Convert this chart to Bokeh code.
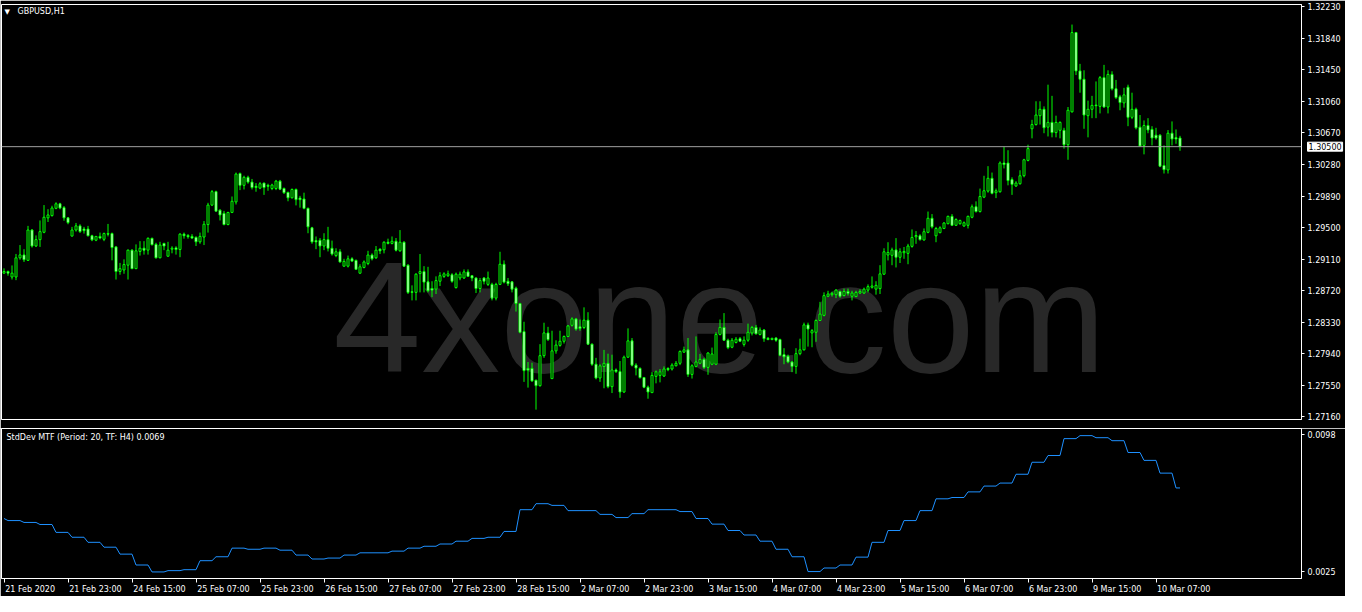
from bokeh.plotting import figure
from bokeh.layouts import column
from bokeh.models import (Range1d, FixedTicker, PrintfTickFormatter, Label, Span,
                          ColumnDataSource, LinearAxis)
from bokeh.embed import file_html
from bokeh.resources import INLINE

# ---------------- data ----------------
symbol = "GBPUSD,H1"
indicator_name = "StdDev MTF (Period: 20, TF: H4)"
indicator_last = "0.0069"
last_price = 1.30500

opens = [
 1.28937, 1.28957, 1.28889, 1.28889, 1.29126, 1.29162, 1.29095, 1.29470, 1.29272, 1.29351,
 1.29442, 1.29620, 1.29648, 1.29738, 1.29794, 1.29746, 1.29620, 1.29395, 1.29470, 1.29521,
 1.29482, 1.29482, 1.29399, 1.29344, 1.29391, 1.29355, 1.29426, 1.29426, 1.29261, 1.28957,
 1.28976, 1.29035, 1.29221, 1.28992, 1.29205, 1.29245, 1.29221, 1.29367, 1.29292, 1.29126,
 1.29304, 1.29146, 1.29233, 1.29249, 1.29229, 1.29419, 1.29403, 1.29391, 1.29379, 1.29324,
 1.29383, 1.29537, 1.29778, 1.29944, 1.29715, 1.29675, 1.29537, 1.29687, 1.29817, 1.30168,
 1.30022, 1.30121, 1.30062, 1.30010, 1.29987, 1.30050, 1.30022, 1.29983, 1.29983, 1.30074,
 1.29983, 1.29935, 1.29868, 1.29971, 1.29864, 1.29853, 1.29738, 1.29497, 1.29339, 1.29343,
 1.29272, 1.29351, 1.29244, 1.29154, 1.29201, 1.29023, 1.29023, 1.29114, 1.29094, 1.28936,
 1.29007, 1.29055, 1.29161, 1.29126, 1.29233, 1.29225, 1.29319, 1.29304, 1.29331, 1.29213,
 1.29319, 1.29035, 1.28707, 1.28699, 1.28932, 1.28956, 1.28829, 1.28747, 1.28739, 1.28837,
 1.28897, 1.28905, 1.28916, 1.28758, 1.28877, 1.28877, 1.28952, 1.28905, 1.28877, 1.28747,
 1.28877, 1.28798, 1.28798, 1.28628, 1.28798, 1.29047, 1.28837, 1.28829, 1.28751, 1.28561,
 1.28214, 1.27759, 1.27759, 1.27613, 1.27546, 1.27917, 1.28198, 1.27633, 1.27976, 1.28044,
 1.28095, 1.28154, 1.28292, 1.28371, 1.28273, 1.28265, 1.28356, 1.28059, 1.27811, 1.27641,
 1.27783, 1.27822, 1.27534, 1.27740, 1.27720, 1.27468, 1.27898, 1.28100, 1.27800, 1.27760,
 1.27646, 1.27527, 1.27460, 1.27661, 1.27673, 1.27665, 1.27760, 1.27752, 1.27792, 1.27823,
 1.27961, 1.27989, 1.27685, 1.27784, 1.27823, 1.27871, 1.27772, 1.27811, 1.27811, 1.28179,
 1.28266, 1.28108, 1.28021, 1.28080, 1.28127, 1.28056, 1.28108, 1.28198, 1.28266, 1.28179,
 1.28234, 1.28131, 1.28116, 1.28135, 1.28116, 1.27930, 1.27910, 1.27839, 1.27784, 1.27942,
 1.27989, 1.28297, 1.28198, 1.28206, 1.28352, 1.28415, 1.28651, 1.28671, 1.28671, 1.28711,
 1.28659, 1.28711, 1.28651, 1.28647, 1.28691, 1.28691, 1.28727, 1.28762, 1.28739, 1.28746,
 1.28924, 1.29161, 1.29157, 1.29224, 1.29133, 1.29189, 1.29181, 1.29268, 1.29386, 1.29398,
 1.29347, 1.29441, 1.29615, 1.29398, 1.29437, 1.29489, 1.29548, 1.29639, 1.29528, 1.29548,
 1.29520, 1.29528, 1.29627, 1.29757, 1.29698, 1.29876, 1.29951, 1.30109, 1.29931, 1.29943,
 1.30298, 1.30298, 1.30093, 1.30014, 1.30042, 1.30141, 1.30330, 1.30721, 1.30773, 1.30883,
 1.30962, 1.30741, 1.30800, 1.30674, 1.30702, 1.30702, 1.30524, 1.30930, 1.31910, 1.31436,
 1.31333, 1.30883, 1.30962, 1.31014, 1.30998, 1.31353, 1.30990, 1.31393, 1.31215, 1.31116,
 1.31041, 1.31235, 1.30863, 1.30962, 1.30741, 1.30516, 1.30761, 1.30713, 1.30642, 1.30642,
 1.30267, 1.30212, 1.30666, 1.30611, 1.30607,
]

highs = [
 1.28996, 1.28968, 1.29032, 1.29174, 1.29284, 1.29233, 1.29521, 1.29482, 1.29403, 1.29588,
 1.29778, 1.29727, 1.29770, 1.29813, 1.29806, 1.29766, 1.29628, 1.29509, 1.29557, 1.29541,
 1.29509, 1.29521, 1.29411, 1.29391, 1.29438, 1.29438, 1.29545, 1.29438, 1.29272, 1.29063,
 1.29107, 1.29229, 1.29233, 1.29292, 1.29332, 1.29332, 1.29379, 1.29375, 1.29312, 1.29324,
 1.29312, 1.29324, 1.29269, 1.29269, 1.29430, 1.29438, 1.29419, 1.29419, 1.29391, 1.29438,
 1.29581, 1.29806, 1.29964, 1.29956, 1.29727, 1.29706, 1.29695, 1.29884, 1.30180, 1.30180,
 1.30141, 1.30141, 1.30101, 1.30050, 1.30062, 1.30054, 1.30042, 1.30042, 1.30089, 1.30089,
 1.29995, 1.29943, 1.29983, 1.29983, 1.29892, 1.29931, 1.29746, 1.29509, 1.29390, 1.29371,
 1.29430, 1.29509, 1.29339, 1.29244, 1.29233, 1.29114, 1.29154, 1.29134, 1.29106, 1.29047,
 1.29094, 1.29213, 1.29181, 1.29272, 1.29244, 1.29331, 1.29363, 1.29390, 1.29371, 1.29469,
 1.29331, 1.29047, 1.28786, 1.28936, 1.29173, 1.29023, 1.29015, 1.28837, 1.28897, 1.28948,
 1.28948, 1.28968, 1.28936, 1.28944, 1.28956, 1.28983, 1.28983, 1.28913, 1.28885, 1.28877,
 1.28889, 1.28956, 1.28818, 1.28818, 1.29201, 1.29094, 1.28877, 1.28837, 1.28770, 1.28569,
 1.28336, 1.27838, 1.27830, 1.27621, 1.28059, 1.28324, 1.28273, 1.28225, 1.28107, 1.28225,
 1.28166, 1.28296, 1.28391, 1.28383, 1.28364, 1.28514, 1.28454, 1.28067, 1.27890, 1.27811,
 1.27988, 1.27941, 1.27929, 1.27759, 1.27851, 1.27918, 1.28254, 1.28135, 1.27823, 1.27772,
 1.27654, 1.27547, 1.27713, 1.27733, 1.27752, 1.27784, 1.27772, 1.27823, 1.27851, 1.27981,
 1.28029, 1.28135, 1.27811, 1.28155, 1.27938, 1.27891, 1.27958, 1.28017, 1.28206, 1.28364,
 1.28443, 1.28127, 1.28135, 1.28147, 1.28147, 1.28155, 1.28313, 1.28285, 1.28297, 1.28266,
 1.28246, 1.28147, 1.28139, 1.28147, 1.28127, 1.28009, 1.27930, 1.27851, 1.28009, 1.28127,
 1.28325, 1.28325, 1.28246, 1.28364, 1.28582, 1.28699, 1.28719, 1.28707, 1.28739, 1.28719,
 1.28746, 1.28746, 1.28719, 1.28719, 1.28739, 1.28758, 1.28798, 1.28896, 1.28837, 1.29035,
 1.29244, 1.29319, 1.29252, 1.29370, 1.29244, 1.29260, 1.29299, 1.29477, 1.29457, 1.29418,
 1.29489, 1.29698, 1.29667, 1.29509, 1.29516, 1.29568, 1.29647, 1.29667, 1.29615, 1.29599,
 1.29576, 1.29647, 1.29785, 1.29824, 1.29982, 1.30140, 1.30259, 1.30180, 1.29982, 1.30318,
 1.30496, 1.30456, 1.30121, 1.30073, 1.30208, 1.30350, 1.30524, 1.30832, 1.31061, 1.31061,
 1.30998, 1.31266, 1.31128, 1.30883, 1.30812, 1.30733, 1.30990, 1.32009, 1.31918, 1.31523,
 1.31444, 1.31069, 1.31128, 1.31306, 1.31373, 1.31511, 1.31444, 1.31432, 1.31325, 1.31140,
 1.31227, 1.31266, 1.31167, 1.30982, 1.30891, 1.30824, 1.30852, 1.30753, 1.30733, 1.30654,
 1.30516, 1.30705, 1.30812, 1.30713, 1.30634,
]

lows = [
 1.28929, 1.28905, 1.28858, 1.28850, 1.29103, 1.29075, 1.29087, 1.29253, 1.29261, 1.29261,
 1.29430, 1.29569, 1.29636, 1.29727, 1.29727, 1.29584, 1.29541, 1.29391, 1.29450, 1.29434,
 1.29426, 1.29391, 1.29332, 1.29332, 1.29355, 1.29332, 1.29391, 1.29095, 1.28858, 1.28917,
 1.28929, 1.28858, 1.28988, 1.28988, 1.29154, 1.29166, 1.29166, 1.29280, 1.29118, 1.29122,
 1.29221, 1.29142, 1.29182, 1.29166, 1.29134, 1.29363, 1.29363, 1.29359, 1.29272, 1.29300,
 1.29284, 1.29438, 1.29766, 1.29699, 1.29588, 1.29529, 1.29529, 1.29679, 1.29785, 1.29963,
 1.29971, 1.30042, 1.29971, 1.29943, 1.29975, 1.29904, 1.29955, 1.29963, 1.29963, 1.29963,
 1.29916, 1.29825, 1.29860, 1.29774, 1.29746, 1.29726, 1.29430, 1.29300, 1.29233, 1.29134,
 1.29221, 1.29205, 1.29154, 1.29134, 1.29067, 1.29015, 1.29007, 1.29075, 1.28976, 1.28928,
 1.28996, 1.29035, 1.29094, 1.29114, 1.29173, 1.29181, 1.29292, 1.29292, 1.29205, 1.29201,
 1.29015, 1.28679, 1.28600, 1.28600, 1.28699, 1.28699, 1.28699, 1.28640, 1.28679, 1.28778,
 1.28877, 1.28889, 1.28818, 1.28747, 1.28849, 1.28865, 1.28889, 1.28837, 1.28691, 1.28699,
 1.28798, 1.28778, 1.28600, 1.28600, 1.28790, 1.28810, 1.28778, 1.28699, 1.28462, 1.28194,
 1.27593, 1.27522, 1.27593, 1.27250, 1.27534, 1.27890, 1.28099, 1.27633, 1.27941, 1.28028,
 1.28067, 1.28146, 1.28277, 1.28225, 1.28225, 1.28245, 1.28048, 1.27791, 1.27625, 1.27593,
 1.27514, 1.27514, 1.27455, 1.27704, 1.27396, 1.27456, 1.27890, 1.27784, 1.27673, 1.27634,
 1.27515, 1.27385, 1.27456, 1.27575, 1.27587, 1.27654, 1.27725, 1.27733, 1.27784, 1.27800,
 1.27950, 1.27654, 1.27634, 1.27772, 1.27811, 1.27752, 1.27681, 1.27800, 1.27800, 1.28167,
 1.28100, 1.27997, 1.28009, 1.28068, 1.28088, 1.28029, 1.28088, 1.28167, 1.28179, 1.28167,
 1.28088, 1.28108, 1.28108, 1.28088, 1.27910, 1.27811, 1.27823, 1.27713, 1.27693, 1.27922,
 1.27981, 1.28029, 1.28021, 1.28088, 1.28345, 1.28403, 1.28640, 1.28647, 1.28628, 1.28632,
 1.28651, 1.28659, 1.28600, 1.28640, 1.28679, 1.28679, 1.28699, 1.28746, 1.28671, 1.28679,
 1.28916, 1.29094, 1.29035, 1.29007, 1.29062, 1.29114, 1.29047, 1.29252, 1.29299, 1.29339,
 1.29339, 1.29430, 1.29489, 1.29319, 1.29430, 1.29481, 1.29540, 1.29520, 1.29520, 1.29536,
 1.29509, 1.29489, 1.29615, 1.29686, 1.29686, 1.29864, 1.29931, 1.29911, 1.29864, 1.29931,
 1.30231, 1.30022, 1.29904, 1.30002, 1.30030, 1.30121, 1.30318, 1.30603, 1.30761, 1.30773,
 1.30666, 1.30626, 1.30615, 1.30615, 1.30603, 1.30476, 1.30338, 1.30923, 1.31385, 1.31167,
 1.30721, 1.30615, 1.30852, 1.30852, 1.30911, 1.30982, 1.30911, 1.31195, 1.31088, 1.30950,
 1.30982, 1.30753, 1.30840, 1.30713, 1.30496, 1.30405, 1.30666, 1.30516, 1.30587, 1.30247,
 1.30168, 1.30168, 1.30516, 1.30536, 1.30449,
]

closes = [
 1.28957, 1.28937, 1.28937, 1.29126, 1.29162, 1.29103, 1.29470, 1.29272, 1.29351, 1.29450,
 1.29628, 1.29656, 1.29742, 1.29794, 1.29742, 1.29620, 1.29561, 1.29470, 1.29521, 1.29450,
 1.29462, 1.29399, 1.29348, 1.29391, 1.29371, 1.29426, 1.29419, 1.29253, 1.28957, 1.28992,
 1.29043, 1.29221, 1.28992, 1.29213, 1.29245, 1.29221, 1.29367, 1.29288, 1.29126, 1.29284,
 1.29272, 1.29221, 1.29245, 1.29229, 1.29419, 1.29399, 1.29387, 1.29371, 1.29324, 1.29391,
 1.29541, 1.29778, 1.29944, 1.29703, 1.29656, 1.29537, 1.29687, 1.29825, 1.30161, 1.30022,
 1.30121, 1.30062, 1.29995, 1.29995, 1.30042, 1.29995, 1.30010, 1.30026, 1.30074, 1.29975,
 1.29931, 1.29868, 1.29971, 1.29845, 1.29845, 1.29738, 1.29509, 1.29323, 1.29323, 1.29272,
 1.29351, 1.29244, 1.29173, 1.29201, 1.29075, 1.29082, 1.29114, 1.29086, 1.28984, 1.29015,
 1.29075, 1.29161, 1.29114, 1.29221, 1.29213, 1.29319, 1.29304, 1.29331, 1.29221, 1.29319,
 1.29023, 1.28699, 1.28699, 1.28924, 1.28956, 1.28826, 1.28719, 1.28727, 1.28845, 1.28905,
 1.28928, 1.28928, 1.28837, 1.28924, 1.28924, 1.28952, 1.28897, 1.28877, 1.28747, 1.28845,
 1.28837, 1.28877, 1.28628, 1.28798, 1.29047, 1.28826, 1.28806, 1.28739, 1.28561, 1.28206,
 1.27732, 1.27740, 1.27605, 1.27546, 1.27917, 1.28198, 1.28115, 1.27976, 1.28048, 1.28095,
 1.28154, 1.28285, 1.28371, 1.28245, 1.28253, 1.28356, 1.28059, 1.27811, 1.27641, 1.27791,
 1.27822, 1.27534, 1.27740, 1.27720, 1.27468, 1.27898, 1.28100, 1.27800, 1.27764, 1.27646,
 1.27527, 1.27468, 1.27673, 1.27717, 1.27717, 1.27752, 1.27744, 1.27800, 1.27823, 1.27969,
 1.27989, 1.27685, 1.27792, 1.27839, 1.27871, 1.27772, 1.27950, 1.27938, 1.28179, 1.28266,
 1.28108, 1.28017, 1.28108, 1.28120, 1.28096, 1.28108, 1.28206, 1.28266, 1.28187, 1.28234,
 1.28127, 1.28116, 1.28131, 1.28108, 1.27922, 1.27902, 1.27839, 1.27784, 1.27942, 1.27989,
 1.28297, 1.28246, 1.28226, 1.28352, 1.28431, 1.28659, 1.28679, 1.28687, 1.28727, 1.28651,
 1.28711, 1.28687, 1.28691, 1.28699, 1.28711, 1.28739, 1.28770, 1.28778, 1.28786, 1.28928,
 1.29201, 1.29193, 1.29224, 1.29133, 1.29201, 1.29205, 1.29272, 1.29378, 1.29402, 1.29351,
 1.29449, 1.29615, 1.29509, 1.29489, 1.29497, 1.29556, 1.29639, 1.29528, 1.29599, 1.29587,
 1.29560, 1.29639, 1.29757, 1.29698, 1.29884, 1.29955, 1.30109, 1.29923, 1.29955, 1.30298,
 1.30279, 1.30081, 1.30034, 1.30050, 1.30140, 1.30338, 1.30476, 1.30773, 1.30891, 1.30962,
 1.30733, 1.30800, 1.30674, 1.30800, 1.30800, 1.30524, 1.30950, 1.31910, 1.31436, 1.31333,
 1.30891, 1.30962, 1.31010, 1.31006, 1.31353, 1.30990, 1.31393, 1.31215, 1.31108, 1.31045,
 1.31140, 1.30863, 1.30962, 1.30733, 1.30508, 1.30761, 1.30706, 1.30607, 1.30607, 1.30259,
 1.30216, 1.30666, 1.30595, 1.30595, 1.30500,
]

# StdDev MTF values, one per H4 period (bar 0 is the tail of the previous H4 period)
stddev_h4 = [
 0.00533, 0.00522, 0.00512, 0.00501, 0.00459, 0.00433, 0.00406, 0.00380, 0.00343, 0.00285,
 0.00248, 0.00255, 0.00260, 0.00308, 0.00329, 0.00375, 0.00369, 0.00375, 0.00364, 0.00338,
 0.00317, 0.00322, 0.00338, 0.00350, 0.00350, 0.00359, 0.00375, 0.00385, 0.00397, 0.00412,
 0.00427, 0.00433, 0.00464, 0.00580, 0.00612, 0.00603, 0.00575, 0.00575, 0.00555, 0.00538,
 0.00559, 0.00580, 0.00580, 0.00570, 0.00533, 0.00503, 0.00469, 0.00445, 0.00412, 0.00369,
 0.00329, 0.00250, 0.00269, 0.00285, 0.00327, 0.00406, 0.00469, 0.00522, 0.00575, 0.00638,
 0.00645, 0.00675, 0.00706, 0.00722, 0.00769, 0.00833, 0.00869, 0.00959, 0.00975, 0.00964,
 0.00948, 0.00885, 0.00843, 0.00775, 0.00696,
]

time_tick_bars = [0, 16, 32, 48, 64, 80, 96, 112, 128, 144, 160, 176, 192, 208, 224, 240, 256, 272, 288]
time_tick_labels = ["21 Feb 2020", "21 Feb 23:00", "24 Feb 15:00", "25 Feb 07:00", "25 Feb 23:00",
                    "26 Feb 15:00", "27 Feb 07:00", "27 Feb 23:00", "28 Feb 15:00", "2 Mar 07:00",
                    "2 Mar 23:00", "3 Mar 15:00", "4 Mar 07:00", "4 Mar 23:00", "5 Mar 15:00",
                    "6 Mar 07:00", "6 Mar 23:00", "9 Mar 15:00", "10 Mar 07:00"]
price_ticks = [1.27160, 1.27550, 1.27940, 1.28330, 1.28720, 1.29110, 1.29500,
               1.29890, 1.30280, 1.30670, 1.31060, 1.31450, 1.31840, 1.32230]
stddev_ticks = [0.0025, 0.0098]

# ---------------- derived columns ----------------
bars = list(range(len(closes)))
body_top = [max(o, c) for o, c in zip(opens, closes)]
body_bot = [min(o, c) for o, c in zip(opens, closes)]
body_fill = ["black" if c >= o else "white" for o, c in zip(opens, closes)]
stddev_bar = [stddev_h4[(i + 3) // 4] for i in bars]

src = ColumnDataSource(dict(x=bars, o=opens, h=highs, l=lows, c=closes,
                            top=body_top, bot=body_bot, fill=body_fill))
src2 = ColumnDataSource(dict(x=bars, v=stddev_bar))

# ---------------- styling ----------------
LIME = "#00ff00"
FONT = "DejaVu Sans"
FS = "8px"
FW = 1300
H1 = 415
H2 = 150
RB = 44
PX_PER_BAR = 4.0
x_range = Range1d(-0.625, -0.625 + FW / PX_PER_BAR)

p1 = figure(frame_width=FW, frame_height=H1, x_range=x_range,
            y_range=Range1d(1.27128, 1.32257), output_backend="svg",
            toolbar_location=None, y_axis_location="right", x_axis_location=None,
            background_fill_color="black", border_fill_color="black",
            outline_line_color="white", outline_line_width=1,
            min_border_left=1, min_border_right=RB, min_border_top=4, min_border_bottom=0)
p1.grid.visible = False

wm = Label(x=0.5525 * FW, y=0.247 * H1, x_units="screen", y_units="screen", text="4xone.com",
           text_align="center", text_baseline="middle", text_font="Liberation Sans",
           text_font_size="158px", text_color="#282828", level="underlay")
p1.add_layout(wm)

p1.segment(x0="x", y0="l", x1="x", y1="h", source=src, line_color=LIME, line_width=1)
p1.vbar(x="x", width=0.5, top="top", bottom="bot", source=src,
        fill_color="fill", line_color=LIME, line_width=1)

p1.add_layout(Span(location=last_price, dimension="width", line_color="#a0a0a0", line_width=1))

ya = p1.yaxis[0]
ya.ticker = FixedTicker(ticks=price_ticks)
ya.formatter = PrintfTickFormatter(format="%.5f")
ya.major_label_text_color = "white"
ya.major_label_text_font = FONT
ya.major_label_text_font_size = FS
ya.axis_line_color = "white"
ya.major_tick_line_color = "white"
ya.major_tick_out = 3
ya.major_tick_in = 0
ya.minor_tick_line_color = None
ya.major_label_standoff = 3

# current-price box on the price scale (placed in a side panel so it is not clipped by the frame)
box_kw = dict(x=FW + 6, y=last_price, x_units="screen", y_units="data",
              text="{:.5f}".format(last_price), text_align="left", text_baseline="middle",
              text_font=FONT, text_font_size=FS, text_color="black",
              background_fill_color="white", border_line_color="white")
try:
    price_box = Label(padding=1, **box_kw)
except Exception:
    price_box = Label(**box_kw)
p1.add_layout(price_box, "below")

p1.add_layout(Label(x=3, y=H1 - 7, x_units="screen", y_units="screen", text="\u25bc",
                    text_align="left", text_baseline="middle", text_font=FONT,
                    text_font_size="7px", text_color="white"))
p1.add_layout(Label(x=16, y=H1 - 7, x_units="screen", y_units="screen", text=symbol,
                    text_align="left", text_baseline="middle", text_font=FONT,
                    text_font_size=FS, text_color="white"))

p2 = figure(frame_width=FW, frame_height=H2, x_range=x_range,
            y_range=Range1d(0.00213, 0.01013), output_backend="svg",
            toolbar_location=None, y_axis_location="right",
            background_fill_color="black", border_fill_color="black",
            outline_line_color="white", outline_line_width=1,
            min_border_left=1, min_border_right=RB, min_border_top=0, min_border_bottom=0)
p2.grid.visible = False
p2.line(x="x", y="v", source=src2, line_color="#1e90ff", line_width=1)

ya2 = p2.yaxis[0]
ya2.ticker = FixedTicker(ticks=stddev_ticks)
ya2.formatter = PrintfTickFormatter(format="%.4f")
ya2.major_label_text_color = "white"
ya2.major_label_text_font = FONT
ya2.major_label_text_font_size = FS
ya2.axis_line_color = "white"
ya2.major_tick_line_color = "white"
ya2.major_tick_out = 3
ya2.major_tick_in = 0
ya2.minor_tick_line_color = None
ya2.major_label_standoff = 3

# time axis: tick marks on the bar positions ...
xa = p2.xaxis[0]
xa.ticker = FixedTicker(ticks=time_tick_bars)
xa.major_label_text_alpha = 0
xa.major_label_text_font_size = "1px"
xa.major_label_standoff = 0
xa.axis_line_color = "white"
xa.major_tick_line_color = "white"
xa.major_tick_out = 4
xa.major_tick_in = 0
xa.minor_tick_line_color = None

# ... and labels that start at the tick (MetaTrader style), centred half a label to the right
CHAR_W = {"0": .636, "1": .636, "2": .636, "3": .636, "4": .636, "5": .636, "6": .636,
          "7": .636, "8": .636, "9": .636, " ": .318, ":": .337, "F": .575, "e": .615,
          "b": .635, "M": .863, "a": .613, "r": .411}
fs_px = 8.0
label_pos = []
for b, t in zip(time_tick_bars, time_tick_labels):
    w = sum(CHAR_W.get(ch, 0.6) for ch in t) * fs_px
    label_pos.append(round(b + (1.0 + w / 2.0) / PX_PER_BAR, 3))
xl = LinearAxis(ticker=FixedTicker(ticks=label_pos),
                major_label_overrides={p: t for p, t in zip(label_pos, time_tick_labels)},
                major_label_text_color="white", major_label_text_font=FONT,
                major_label_text_font_size=FS, major_label_standoff=2,
                axis_line_color=None, major_tick_line_color=None, minor_tick_line_color=None,
                major_tick_out=0, major_tick_in=0)
p2.add_layout(xl, "below")

p2.add_layout(Label(x=5, y=H2 - 9, x_units="screen", y_units="screen",
                    text=indicator_name + " " + indicator_last,
                    text_align="left", text_baseline="middle", text_font=FONT,
                    text_font_size=FS, text_color="white"))

layout = column(p1, p2, spacing=0)
open("out.html", "w").write(file_html(layout, INLINE))
